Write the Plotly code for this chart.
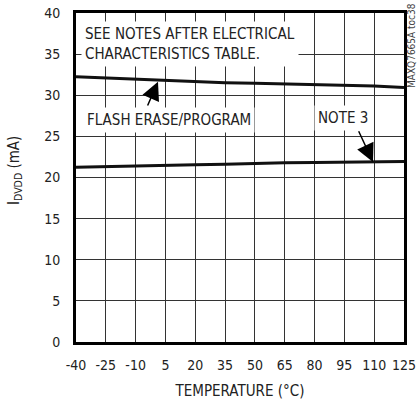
import plotly.graph_objects as go

temperature = [-40, -25, -10, 5, 20, 35, 50, 65, 80, 95, 110, 125]
flash_erase_program = [32.25, 32.1, 31.98, 31.78, 31.62, 31.53, 31.45, 31.37, 31.25, 31.17, 31.12, 30.93]
note3 = [21.25, 21.35, 21.42, 21.5, 21.56, 21.62, 21.75, 21.8, 21.82, 21.85, 21.9, 21.95]
x_ticks = [-40, -25, -10, 5, 20, 35, 50, 65, 80, 95, 110, 125]
y_ticks = [0, 5, 10, 15, 20, 25, 30, 35, 40]

FONT = "DejaVu Sans Condensed, Liberation Sans Narrow, sans-serif"
TXT = "#222"

fig = go.Figure()
for ys in (flash_erase_program, note3):
    fig.add_trace(go.Scatter(x=temperature, y=ys, mode="lines",
                             line=dict(color="#111", width=3), showlegend=False,
                             hoverinfo="skip"))

fig.update_layout(
    width=418, height=403,
    margin=dict(l=76, r=14, t=13, b=61, autoexpand=False),
    paper_bgcolor="white", plot_bgcolor="white",
    font=dict(family=FONT, size=14, color=TXT),
    xaxis=dict(range=[-40, 125], tickvals=x_ticks, ticktext=[str(v) for v in x_ticks],
               showgrid=True, gridcolor="#333", gridwidth=1, zeroline=False,
               showline=True, linecolor="black", linewidth=3, mirror=True,
               ticks="", ticklabelstandoff=8, automargin=False,
               title=dict(text="TEMPERATURE (°C)", font=dict(size=15, family=FONT), standoff=14)),
    yaxis=dict(range=[0, 40], tickvals=y_ticks,
               showgrid=True, gridcolor="#333", gridwidth=1, zeroline=False,
               showline=True, linecolor="black", linewidth=3, mirror=True,
               ticks="", ticklabelstandoff=10, automargin=False),
)

annos = [
    dict(x=-37.5, y=39.0, xref="x", yref="y", xanchor="left", yanchor="top",
         text="SEE NOTES AFTER ELECTRICAL<br>CHARACTERISTICS TABLE.", align="left",
         showarrow=False, bgcolor="white", borderpad=3, font=dict(size=15, family=FONT, color=TXT)),
    dict(x=7.0, y=27.0, xref="x", yref="y", xanchor="center", yanchor="middle",
         text="FLASH ERASE/PROGRAM", showarrow=False, bgcolor="white", borderpad=3,
         font=dict(size=15, family=FONT, color=TXT)),
    dict(x=94.3, y=27.2, xref="x", yref="y", xanchor="center", yanchor="middle",
         text="NOTE 3", showarrow=False, bgcolor="white", borderpad=3,
         font=dict(size=15, family=FONT, color=TXT)),
    dict(x=1.25, y=31.63, xref="x", yref="y", ax=-4.3, ay=28.58, axref="x", ayref="y",
         text="", showarrow=True, arrowhead=2, arrowsize=2.4, arrowwidth=1.5,
         arrowcolor="black", standoff=0),
    dict(x=109.4, y=21.89, xref="x", yref="y", ax=101.85, ay=25.8, axref="x", ayref="y",
         text="", showarrow=True, arrowhead=2, arrowsize=2.4, arrowwidth=1.5,
         arrowcolor="black", standoff=0),
    dict(x=(15 - 76) / 328, y=20.8, xref="paper", yref="y", xanchor="center", yanchor="middle",
         text="I<sub>DVDD</sub> (mA)", textangle=-90, showarrow=False,
         font=dict(size=15, family=FONT, color=TXT)),
    dict(x=(412 - 76) / 328, y=(403 - 61 - 46) / 329, xref="paper", yref="paper", showarrow=False,
         xanchor="center", yanchor="middle",
         text="MAXQ7665A toc38", textangle=-90, font=dict(size=10, family=FONT, color="#444")),
]
fig.update_layout(annotations=annos)

fig.write_html("out.html", config={"displayModeBar": False},
               post_script="document.body.style.margin='0';")
